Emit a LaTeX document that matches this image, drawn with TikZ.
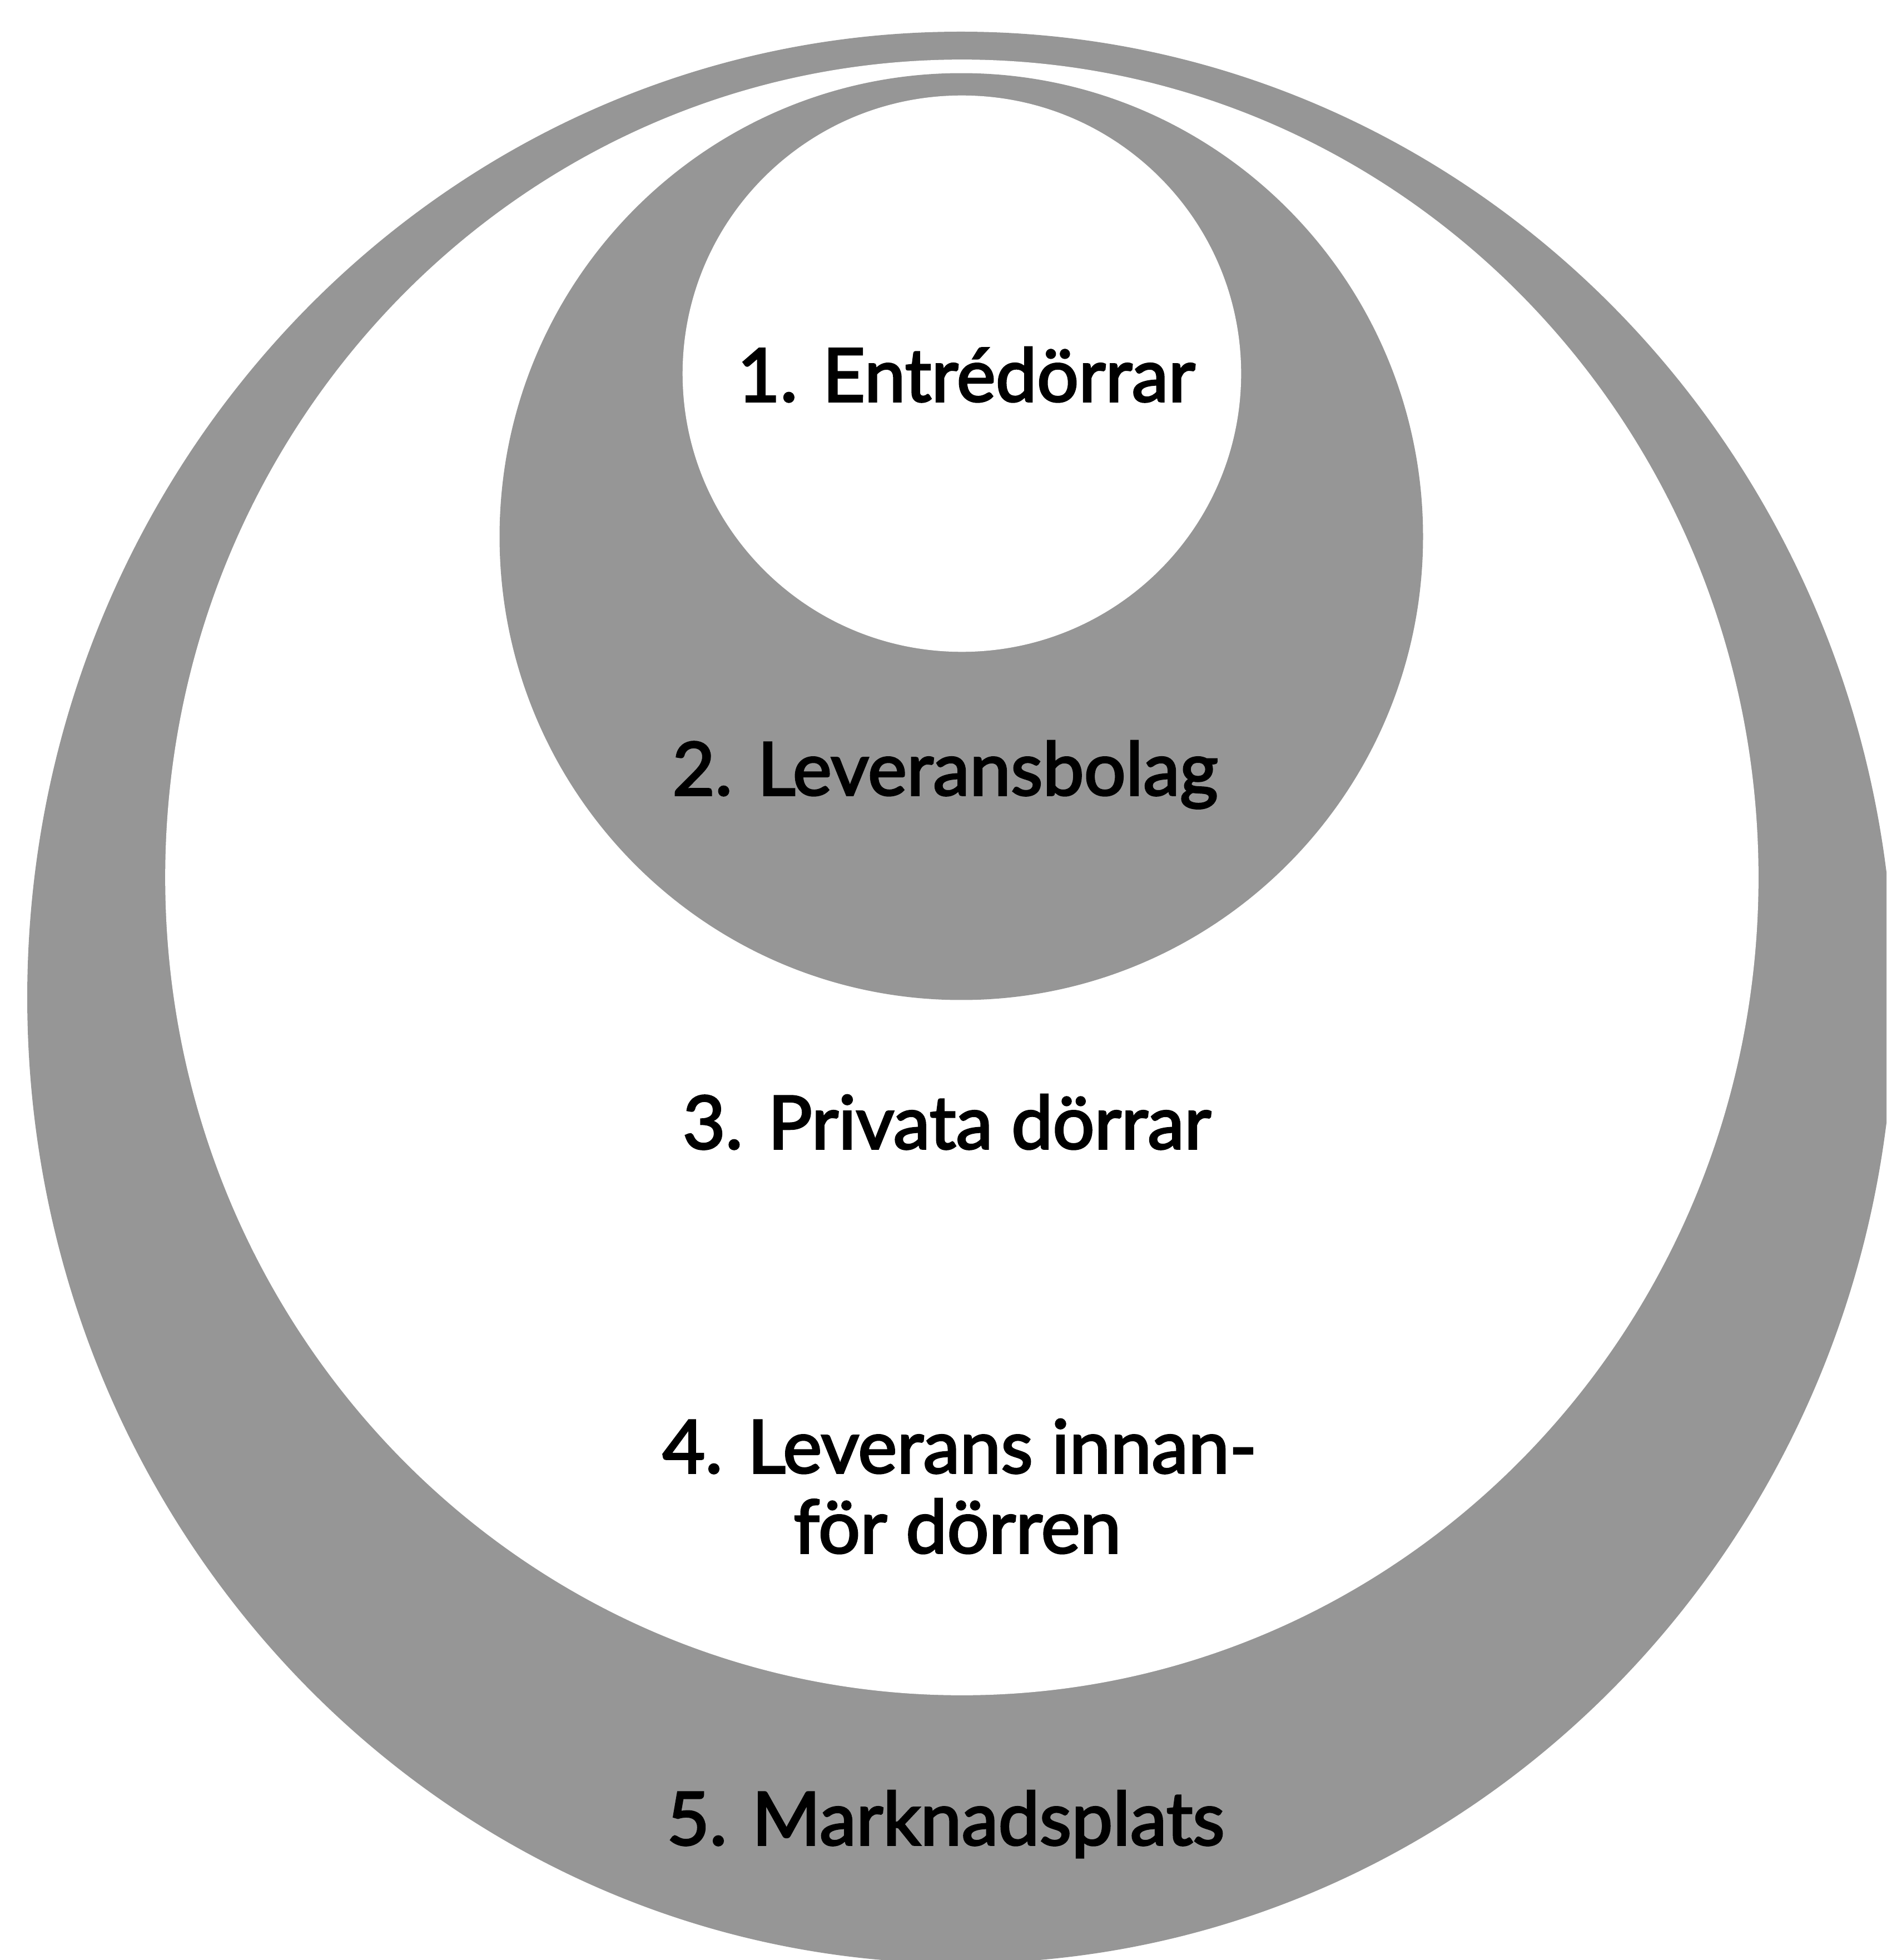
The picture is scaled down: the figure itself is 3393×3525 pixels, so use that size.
\documentclass[tikz,border=0pt]{standalone}
\usepackage{fontspec}
\setmainfont{Lato}
\newcommand\heavytxt[1]{\special{pdf:literal direct 2 Tr 1.0 w 0 G}#1\special{pdf:literal direct 0 Tr}}
\definecolor{ringgray}{HTML}{969696}
\begin{document}
\begin{tikzpicture}[x=0.01cm,y=-0.01cm,
  lbl/.style={font=\fontsize{37.7pt}{41pt}\selectfont, text=black, inner sep=0pt, anchor=base},
  graydisc/.style={fill=ringgray},
  whitedisc/.style={fill=white}]
\clip (0,0) rectangle (3393,3525);
\fill[white] (0,0) rectangle (3393,3525);
% 5 outer
\path[graydisc] (1728,1794) ellipse [x radius=16.78cm, y radius=17.36cm];
% 4 white
\path[whitedisc] (1730,1578) ellipse [x radius=14.32cm, y radius=14.70cm];
% 2 gray
\path[graydisc] (1729,965) ellipse [x radius=8.30cm, y radius=8.33cm];
% 1 white
\path[whitedisc] (1730,672) ellipse [x radius=5.02cm, y radius=5.00cm];
\node[lbl] (t1) at (1738,722) {\heavytxt{1. Entrédörrar}};
\node[lbl] (t2) at (1700,1430) {\heavytxt{2. Leveransbolag}};
\node[lbl] (t3) at (1703,2066) {\heavytxt{3. Privata dörrar}};
\node[lbl] (t4) at (1726,2649) {\heavytxt{4. Leverans innan-}};
\node[lbl] (t4b) at (1722,2793) {\heavytxt{för dörren}};
\node[lbl] (t5) at (1701,3318) {\heavytxt{5. Marknadsplats}};
\end{tikzpicture}
\end{document}
